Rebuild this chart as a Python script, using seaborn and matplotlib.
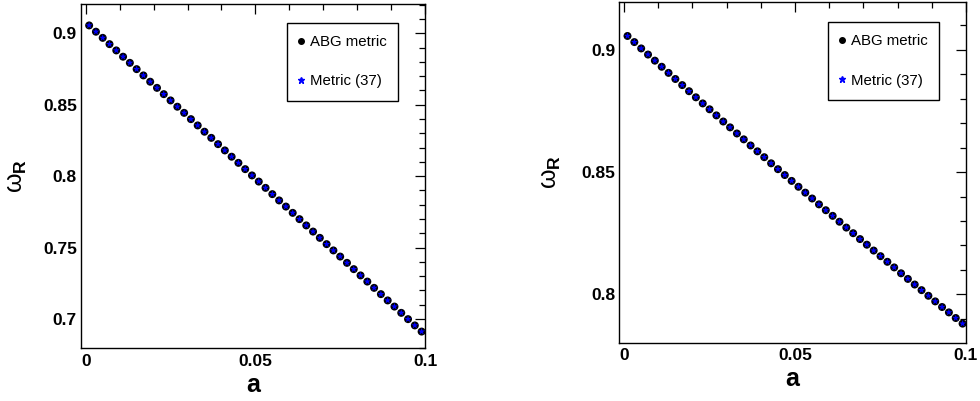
import matplotlib
matplotlib.use("Agg")
import matplotlib.pyplot as plt
from matplotlib.lines import Line2D
from matplotlib.ticker import MultipleLocator, FixedLocator
import seaborn as sns
import pandas as pd

# ---------------- data ----------------
a_values = [0.001, 0.003, 0.005, 0.007, 0.009, 0.011, 0.013, 0.015, 0.017, 0.019,
            0.021, 0.023, 0.025, 0.027, 0.029, 0.031, 0.033, 0.035, 0.037, 0.039,
            0.041, 0.043, 0.045, 0.047, 0.049, 0.051, 0.053, 0.055, 0.057, 0.059,
            0.061, 0.063, 0.065, 0.067, 0.069, 0.071, 0.073, 0.075, 0.077, 0.079,
            0.081, 0.083, 0.085, 0.087, 0.089, 0.091, 0.093, 0.095, 0.097, 0.099]

left_abg = [0.9055, 0.9011, 0.8968, 0.8924, 0.8880, 0.8836, 0.8793, 0.8749, 0.8705, 0.8661,
            0.8618, 0.8574, 0.8530, 0.8486, 0.8443, 0.8399, 0.8355, 0.8311, 0.8268, 0.8224,
            0.8180, 0.8136, 0.8093, 0.8049, 0.8005, 0.7962, 0.7918, 0.7874, 0.7830, 0.7787,
            0.7743, 0.7699, 0.7655, 0.7612, 0.7568, 0.7524, 0.7480, 0.7437, 0.7393, 0.7349,
            0.7305, 0.7262, 0.7218, 0.7174, 0.7130, 0.7087, 0.7043, 0.6999, 0.6955, 0.6912]
left_m37 = list(left_abg)

right_abg = [0.9057, 0.9032, 0.9006, 0.8981, 0.8956, 0.8931, 0.8906, 0.8881, 0.8856, 0.8831,
             0.8806, 0.8781, 0.8757, 0.8732, 0.8707, 0.8683, 0.8658, 0.8634, 0.8609, 0.8585,
             0.8561, 0.8536, 0.8512, 0.8488, 0.8464, 0.8440, 0.8416, 0.8392, 0.8368, 0.8344,
             0.8321, 0.8297, 0.8273, 0.8250, 0.8226, 0.8203, 0.8179, 0.8156, 0.8133, 0.8110,
             0.8086, 0.8063, 0.8040, 0.8017, 0.7994, 0.7971, 0.7948, 0.7926, 0.7903, 0.7880]
right_m37 = list(right_abg)

series_labels = ["ABG metric", "Metric (37)"]
x_ticks = [0, 0.05, 0.1]
x_ticklabels = ["0", "0.05", "0.1"]
left_yticks = [0.7, 0.75, 0.8, 0.85, 0.9]
left_yticklabels = ["0.7", "0.75", "0.8", "0.85", "0.9"]
right_yticks = [0.8, 0.85, 0.9]
right_yticklabels = ["0.8", "0.85", "0.9"]

# ---------------- style ----------------
sns.set_theme(style="white")
plt.rcParams["font.family"] = ["Liberation Sans", "DejaVu Sans"]
plt.rcParams["mathtext.fontset"] = "custom"
plt.rcParams["mathtext.rm"] = "Liberation Sans"
plt.rcParams["mathtext.bf"] = "Liberation Sans:bold"
plt.rcParams["mathtext.it"] = "Liberation Sans:italic"
plt.rcParams["text.color"] = "black"
plt.rcParams["axes.labelcolor"] = "black"
plt.rcParams["xtick.color"] = "black"
plt.rcParams["ytick.color"] = "black"
plt.rcParams["xtick.labelcolor"] = "black"
plt.rcParams["ytick.labelcolor"] = "black"

W, H = 980, 401
fig = plt.figure(figsize=(W / 100, H / 100), dpi=100)
fig.patch.set_facecolor("white")


def px_axes(l, t, r, b):
    return fig.add_axes([l / W, 1 - b / H, (r - l) / W, (b - t) / H])


ax1 = px_axes(81, 4, 425, 348)
ax2 = px_axes(619.3, 2, 966, 342.7)


def draw_panel(ax, abg, m37, ylim, yticks, yticklabels, legend_xy):
    df = pd.DataFrame({"a": a_values, "abg": abg, "m37": m37})
    sns.scatterplot(data=df, x="a", y="abg", ax=ax, color="black", s=33,
                    marker="o", edgecolor="none", linewidth=0, legend=False, zorder=3)
    sns.scatterplot(data=df, x="a", y="m37", ax=ax, color="blue", s=28,
                    marker="*", edgecolor="none", linewidth=0, legend=False, zorder=4)
    ax.set_xlim(-0.0014, 0.1)
    ax.set_ylim(*ylim)
    ax.xaxis.set_major_locator(FixedLocator(x_ticks))
    ax.set_xticklabels(x_ticklabels, fontweight="bold", fontsize=12.5, color="black")
    ax.xaxis.set_minor_locator(MultipleLocator(0.01))
    ax.yaxis.set_major_locator(FixedLocator(yticks))
    ax.set_yticklabels(yticklabels, fontweight="bold", fontsize=12.5, color="black")
    ax.yaxis.set_minor_locator(MultipleLocator(0.01))
    ax.tick_params(which="both", direction="in", top=True, right=True,
                   color="black", labelcolor="black", width=0.9)
    ax.tick_params(which="major", length=7.5)
    ax.tick_params(which="minor", length=4)
    ax.tick_params(axis="x", which="major", pad=4)
    ax.tick_params(axis="y", which="major", pad=3)
    for sp in ax.spines.values():
        sp.set_visible(True)
        sp.set_color("black")
        sp.set_linewidth(1.0)
    ax.set_xlabel("a", fontsize=18, fontweight="bold", color="black")
    ax.set_ylabel(r"$\mathrm{\omega}_{\mathbf{R}}$", fontsize=18, color="black")
    handles = [
        Line2D([], [], marker="o", color="black", ls="", markersize=4),
        Line2D([], [], marker="*", color="blue", ls="", markersize=4.5),
    ]
    leg = ax.legend(handles, series_labels, loc="upper left",
                    bbox_to_anchor=legend_xy, fontsize=10.8,
                    frameon=True, fancybox=False, shadow=False, framealpha=1,
                    edgecolor="black", borderpad=0.8, labelspacing=1.7,
                    handlelength=0.3, handletextpad=0.4, borderaxespad=0)
    leg.get_frame().set_linewidth(1.0)
    for t in leg.get_texts():
        t.set_color("black")


draw_panel(ax1, left_abg, left_m37, (0.6797, 0.9205), left_yticks, left_yticklabels,
           ((287 - 81) / 344, (348 - 23) / 344))
ax1.yaxis.set_label_coords(-0.152, 0.5)
ax1.xaxis.set_label_coords(0.5, -0.072)

draw_panel(ax2, right_abg, right_m37, (0.7802, 0.9196), right_yticks, right_yticklabels,
           ((828 - 619.3) / 346.7, (342.7 - 22) / 340.7))
ax2.yaxis.set_label_coords(-0.162, 0.5)
ax2.xaxis.set_label_coords(0.5, -0.072)

fig.savefig("out.png", dpi=100, facecolor="white")
